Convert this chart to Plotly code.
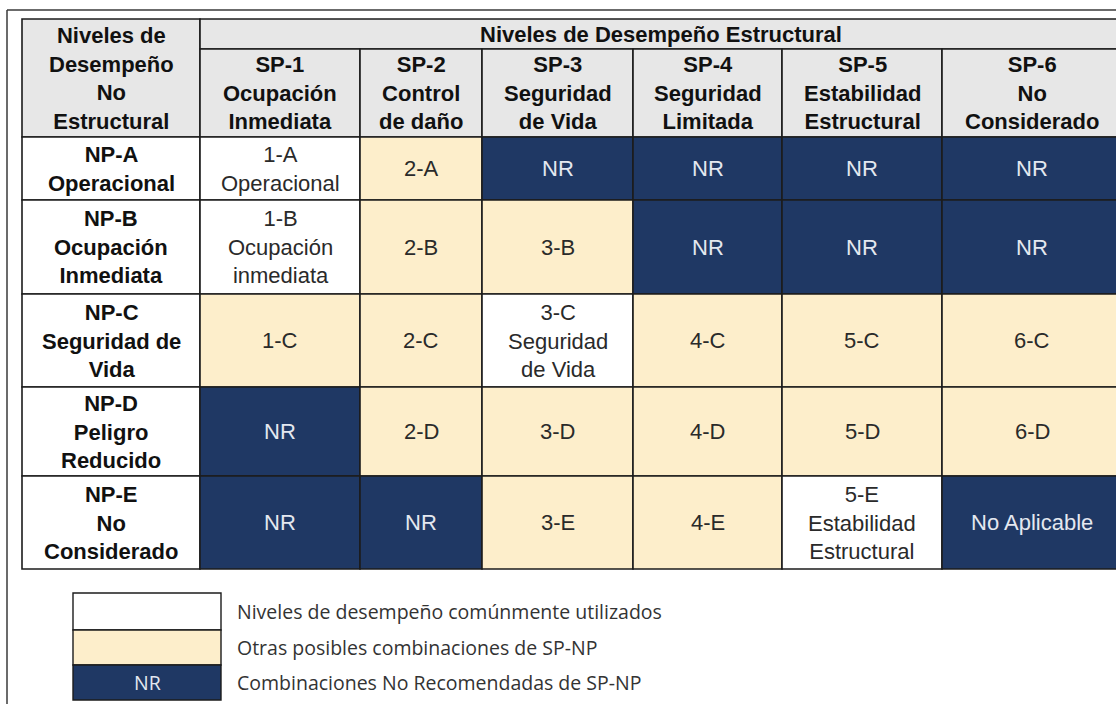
import plotly.graph_objects as go

# ---------------- data ----------------
corner_title = ["Niveles de", "Desempeño", "No", "Estructural"]
sp_group_title = "Niveles de Desempeño Estructural"
sp_codes = ["SP-1", "SP-2", "SP-3", "SP-4", "SP-5", "SP-6"]
sp_names = [["Ocupación", "Inmediata"], ["Control", "de daño"], ["Seguridad", "de Vida"],
            ["Seguridad", "Limitada"], ["Estabilidad", "Estructural"], ["No", "Considerado"]]
np_codes = ["NP-A", "NP-B", "NP-C", "NP-D", "NP-E"]
np_names = [["Operacional"], ["Ocupación", "Inmediata"], ["Seguridad de", "Vida"],
            ["Peligro", "Reducido"], ["No", "Considerado"]]
cell_labels = [
    [["1-A", "Operacional"], ["2-A"], ["NR"], ["NR"], ["NR"], ["NR"]],
    [["1-B", "Ocupación", "inmediata"], ["2-B"], ["3-B"], ["NR"], ["NR"], ["NR"]],
    [["1-C"], ["2-C"], ["3-C", "Seguridad", "de Vida"], ["4-C"], ["5-C"], ["6-C"]],
    [["NR"], ["2-D"], ["3-D"], ["4-D"], ["5-D"], ["6-D"]],
    [["NR"], ["NR"], ["3-E"], ["4-E"], ["5-E", "Estabilidad", "Estructural"], ["No Aplicable"]],
]
# 0 = commonly used, 1 = other possible, 2 = not recommended
cell_class = [
    [0, 1, 2, 2, 2, 2],
    [0, 1, 1, 2, 2, 2],
    [1, 1, 0, 1, 1, 1],
    [2, 1, 1, 1, 1, 1],
    [2, 2, 1, 1, 0, 2],
]
legend_labels = ["Niveles de desempeño comúnmente utilizados",
                 "Otras posibles combinaciones de SP-NP",
                 "Combinaciones No Recomendadas de SP-NP"]
legend_box_text = ["", "", "NR"]

# ---------------- layout / style ----------------
W, H = 1116, 704
col_edges = [22, 200, 360, 482, 633, 782, 942, 1122]
row_edges = [19, 49, 137, 200, 294, 387, 476, 569]
leg_x = [73, 221]
leg_y = [593, 630, 665, 700]
leg_text_x = 235

fill_cls = ["#ffffff", "#fdeecb", "#1f3864"]
text_cls = ["#2a2a2a", "#2a2a2a", "#e4e8f0"]
header_fill = "#e7e7e7"
grid_col = "#1c1c1c"
tfont = "Liberation Sans, Arial, sans-serif"
lfont = "Open Sans, sans-serif"
FS = 22

fig = go.Figure()
shapes = []
ann = []


def cell(x0, x1, y0, y1, fill, lw=1.6):
    shapes.append(dict(type="rect", xref="x", yref="y", x0=x0, x1=x1, y0=y0, y1=y1,
                       fillcolor=fill, line=dict(color=grid_col, width=lw), layer="below"))


def text(x, y, lines, color, bold=False, size=FS, family=tfont, xanchor="center"):
    ann.append(dict(x=x, y=y, xref="x", yref="y", text="<br>".join(lines), showarrow=False,
                    xanchor=xanchor, yanchor="middle", align="center" if xanchor == "center" else "left",
                    font=dict(family=family, size=size, color=color,
                              weight="bold" if bold else "normal")))


# outer frame
shapes.append(dict(type="line", xref="x", yref="y", x0=7, x1=W + 5, y0=10, y1=10,
                   line=dict(color="#3a3a3a", width=1.5)))
shapes.append(dict(type="line", xref="x", yref="y", x0=7, x1=7, y0=10, y1=H + 5,
                   line=dict(color="#3a3a3a", width=1.5)))

# corner cell
cell(col_edges[0], col_edges[1], row_edges[0], row_edges[2], header_fill)
text((col_edges[0] + col_edges[1]) / 2, (row_edges[0] + row_edges[2]) / 2, corner_title, "#111111", True)

# group header
cell(col_edges[1], col_edges[-1], row_edges[0], row_edges[1], header_fill)
text((col_edges[1] + col_edges[-1]) / 2, (row_edges[0] + row_edges[1]) / 2, [sp_group_title], "#111111", True)

# SP headers
for j, (code, name) in enumerate(zip(sp_codes, sp_names)):
    x0, x1 = col_edges[j + 1], col_edges[j + 2]
    cell(x0, x1, row_edges[1], row_edges[2], header_fill)
    text((x0 + x1) / 2, (row_edges[1] + row_edges[2]) / 2, [code] + name, "#111111", True)

# NP rows
for i, (code, name) in enumerate(zip(np_codes, np_names)):
    y0, y1 = row_edges[i + 2], row_edges[i + 3]
    cell(col_edges[0], col_edges[1], y0, y1, "#ffffff")
    text((col_edges[0] + col_edges[1]) / 2, (y0 + y1) / 2, [code] + name, "#111111", True)
    for j in range(len(sp_codes)):
        x0, x1 = col_edges[j + 1], col_edges[j + 2]
        c = cell_class[i][j]
        cell(x0, x1, y0, y1, fill_cls[c])
        text((x0 + x1) / 2, (y0 + y1) / 2, cell_labels[i][j], text_cls[c])

# legend
for k, lab in enumerate(legend_labels):
    y0, y1 = leg_y[k], leg_y[k + 1]
    cell(leg_x[0], leg_x[1], y0, y1, fill_cls[k], lw=1.4)
    if legend_box_text[k]:
        text((leg_x[0] + leg_x[1]) / 2, (y0 + y1) / 2, [legend_box_text[k]], text_cls[k],
             size=19.5, family=lfont)
    text(leg_text_x, (y0 + y1) / 2, [lab], "#333333", size=19.5, family=lfont, xanchor="left")

fig.update_layout(
    width=W, height=H, margin=dict(l=0, r=0, t=0, b=0), autosize=False,
    paper_bgcolor="white", plot_bgcolor="white", showlegend=False,
    xaxis=dict(range=[0, W], visible=False, fixedrange=True),
    yaxis=dict(range=[H, 0], visible=False, fixedrange=True),
    shapes=shapes, annotations=ann,
)

fig.write_html("out.html", config={"displayModeBar": False},
               post_script="document.body.style.margin='0';document.body.style.overflow='hidden';")
